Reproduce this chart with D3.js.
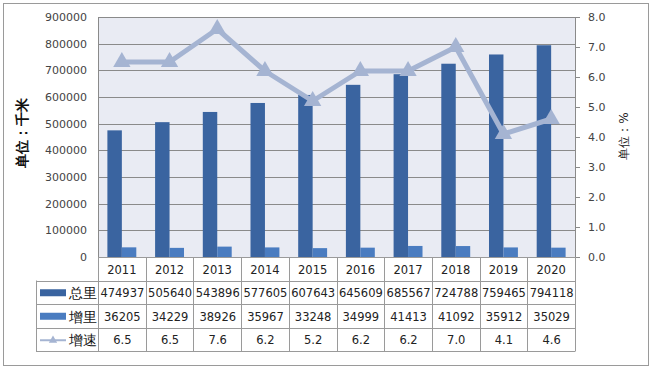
<!DOCTYPE html>
<html>
<head>
<meta charset="utf-8">
<script src="https://cdn.jsdelivr.net/npm/d3@7"></script>
<style>
  body { margin: 0; background: #fff; }
  text { font-family: "DejaVu Sans", Verdana, sans-serif; }
</style>
</head>
<body>
<div id="chart"></div>
<script>
var years = ["2011", "2012", "2013", "2014", "2015", "2016", "2017", "2018", "2019", "2020"];
var totalValues = [474937, 505640, 543896, 577605, 607643, 645609, 685567, 724788, 759465, 794118];
var incValues = [36205, 34229, 38926, 35967, 33248, 34999, 41413, 41092, 35912, 35029];
var rateValues = [6.5, 6.5, 7.6, 6.2, 5.2, 6.2, 6.2, 7.0, 4.1, 4.6];
var leftTicks = [0, 100000, 200000, 300000, 400000, 500000, 600000, 700000, 800000, 900000];
var rightTicks = [0, 1, 2, 3, 4, 5, 6, 7, 8];
var seriesNames = ["总里", "增里", "增速"];

var W = 652, H = 368;
var pLeft = 98, pRight = 575, pTop = 17, pBottom = 257;
var c1 = "#3a64a0", c2 = "#4a7cc0", cLine = "#a5b4d2";
var gridC = "#8a8a8a", tableC = "#9a9a9a";

var svg = d3.select("#chart").append("svg")
    .attr("width", W)
    .attr("height", H);

// outer frame
svg.append("rect")
    .attr("x", 3.5).attr("y", 3.5)
    .attr("width", 645).attr("height", 362)
    .attr("fill", "#fff")
    .attr("stroke", "#9a9a9a");

var x = d3.scaleBand().domain(years).range([pLeft, pRight]);
var xSub = d3.scaleBand().domain(["total", "inc"])
    .range([0, x.bandwidth()])
    .paddingOuter(0.65);
var yL = d3.scaleLinear().domain([0, 900000]).range([pBottom, pTop]);
var yR = d3.scaleLinear().domain([0, 8]).range([pBottom, pTop]);

// plot background
svg.append("rect")
    .attr("x", pLeft).attr("y", pTop)
    .attr("width", pRight - pLeft).attr("height", pBottom - pTop)
    .attr("fill", "#e9ebf3");

// gridlines
svg.append("g").selectAll("line")
    .data(leftTicks.slice(1))
    .enter().append("line")
    .attr("x1", pLeft).attr("x2", pRight)
    .attr("y1", function(d) { return Math.round(yL(d)) + 0.5; })
    .attr("y2", function(d) { return Math.round(yL(d)) + 0.5; })
    .attr("stroke", gridC);

// plot border (left, right)
svg.append("line").attr("x1", pLeft + 0.5).attr("x2", pLeft + 0.5)
    .attr("y1", pTop).attr("y2", pBottom).attr("stroke", gridC);
svg.append("line").attr("x1", pRight + 0.5).attr("x2", pRight + 0.5)
    .attr("y1", pTop).attr("y2", pBottom).attr("stroke", gridC);

// left axis labels
svg.append("g").selectAll("text")
    .data(leftTicks)
    .enter().append("text")
    .attr("x", 87)
    .attr("y", function(d) { return yL(d); })
    .attr("dy", "0.35em")
    .attr("text-anchor", "end")
    .attr("font-size", 11)
    .attr("fill", "#444")
    .text(function(d) { return d; });

// right axis ticks + labels
var rAxis = svg.append("g").selectAll("g")
    .data(rightTicks)
    .enter().append("g")
    .attr("transform", function(d) { return "translate(0," + (Math.round(yR(d)) + 0.5) + ")"; });
rAxis.append("line")
    .attr("x1", pRight).attr("x2", pRight + 5)
    .attr("stroke", gridC);
rAxis.append("text")
    .attr("x", 588)
    .attr("dy", "0.35em")
    .attr("font-size", 11)
    .attr("fill", "#444")
    .text(function(d) { return d3.format(".1f")(d); });

// axis titles
svg.append("text")
    .attr("transform", "translate(27,133) rotate(-90)")
    .attr("text-anchor", "middle")
    .attr("font-size", 14)
    .attr("font-weight", "bold")
    .attr("font-family", "Noto Sans CJK SC")
    .attr("fill", "#111")
    .text("单位：千米");
svg.append("text")
    .attr("transform", "translate(628,136) rotate(-90)")
    .attr("text-anchor", "middle")
    .attr("font-size", 12)
    .attr("font-family", "Noto Sans CJK SC")
    .attr("fill", "#222")
    .text("单位：%");

// bars
var groups = svg.append("g").selectAll("g")
    .data(years)
    .enter().append("g")
    .attr("transform", function(d) { return "translate(" + x(d) + ",0)"; });
groups.append("rect")
    .attr("x", xSub("total"))
    .attr("width", xSub.bandwidth())
    .attr("y", function(d, i) { return yL(totalValues[i]); })
    .attr("height", function(d, i) { return pBottom - yL(totalValues[i]); })
    .attr("fill", c1);
groups.append("rect")
    .attr("x", xSub("inc"))
    .attr("width", xSub.bandwidth())
    .attr("y", function(d, i) { return yL(incValues[i]); })
    .attr("height", function(d, i) { return pBottom - yL(incValues[i]); })
    .attr("fill", c2);

// top border over bars
svg.append("line").attr("x1", pLeft).attr("x2", pRight + 5)
    .attr("y1", pTop + 0.5).attr("y2", pTop + 0.5).attr("stroke", gridC);

// rate line
var line = d3.line()
    .x(function(d, i) { return x(years[i]) + x.bandwidth() / 2; })
    .y(function(d) { return yR(d); });
svg.append("path")
    .datum(rateValues)
    .attr("d", line)
    .attr("fill", "none")
    .attr("stroke", cLine)
    .attr("stroke-width", 5)
    .attr("stroke-linejoin", "round");
svg.append("g").selectAll("path")
    .data(rateValues)
    .enter().append("path")
    .attr("d", d3.symbol().type(d3.symbolTriangle).size(130))
    .attr("transform", function(d, i) {
        return "translate(" + (x(years[i]) + x.bandwidth() / 2) + "," + yR(d) + ")";
    })
    .attr("fill", cLine);

// data table
var rowH = 23.5;
var rowTop = [pBottom, pBottom + rowH, pBottom + rowH * 2, pBottom + rowH * 3];
var tableBottom = pBottom + rowH * 4;
var legX = 36;
var table = svg.append("g");

// horizontal lines
table.append("line").attr("x1", pLeft).attr("x2", pRight)
    .attr("y1", pBottom + 0.5).attr("y2", pBottom + 0.5).attr("stroke", tableC);
[1, 2, 3, 4].forEach(function(k) {
    var yy = Math.round(pBottom + rowH * k) + 0.5;
    table.append("line").attr("x1", legX).attr("x2", pRight + 0.5)
        .attr("y1", yy).attr("y2", yy).attr("stroke", tableC);
});
// vertical lines
table.selectAll("line.v")
    .data(years.concat(["end"]))
    .enter().append("line")
    .attr("class", "v")
    .attr("x1", function(d, i) { return Math.round(pLeft + i * x.step()) + 0.5; })
    .attr("x2", function(d, i) { return Math.round(pLeft + i * x.step()) + 0.5; })
    .attr("y1", pBottom).attr("y2", tableBottom)
    .attr("stroke", tableC);
table.append("line").attr("x1", legX + 0.5).attr("x2", legX + 0.5)
    .attr("y1", pBottom + rowH).attr("y2", tableBottom).attr("stroke", tableC);

// year row
table.selectAll("text.yr")
    .data(years)
    .enter().append("text")
    .attr("class", "yr")
    .attr("x", function(d) { return x(d) + x.bandwidth() / 2; })
    .attr("y", pBottom + rowH / 2 + 1)
    .attr("dy", "0.35em")
    .attr("text-anchor", "middle")
    .attr("font-size", 11.5)
    .attr("fill", "#222")
    .text(function(d) { return d; });

var rows = [totalValues, incValues, rateValues.map(function(v) { return d3.format(".1f")(v); })];
rows.forEach(function(vals, r) {
    var cy = rowTop[r + 1] + rowH / 2 + 1;
    table.selectAll("text.r" + r)
        .data(vals)
        .enter().append("text")
        .attr("class", "r" + r)
        .attr("x", function(d, i) { return x(years[i]) + x.bandwidth() / 2 + 0.5; })
        .attr("y", cy)
        .attr("dy", "0.35em")
        .attr("text-anchor", "middle")
        .attr("font-size", 11.5)
        .attr("fill", "#222")
        .text(function(d) { return d; });

    // legend key
    if (r < 2) {
        table.append("rect")
            .attr("x", 40).attr("y", cy - 4)
            .attr("width", 26).attr("height", 7)
            .attr("fill", r === 0 ? c1 : c2);
    } else {
        table.append("line")
            .attr("x1", 40).attr("x2", 66)
            .attr("y1", cy).attr("y2", cy)
            .attr("stroke", cLine).attr("stroke-width", 2);
        table.append("path")
            .attr("d", d3.symbol().type(d3.symbolTriangle).size(30))
            .attr("transform", "translate(53," + cy + ")")
            .attr("fill", cLine);
    }
    table.append("text")
        .attr("x", 69)
        .attr("y", cy)
        .attr("dy", "0.35em")
        .attr("font-size", 14)
        .attr("font-family", "Noto Sans CJK SC")
        .attr("fill", "#111")
        .text(seriesNames[r]);
});
</script>
</body>
</html>
